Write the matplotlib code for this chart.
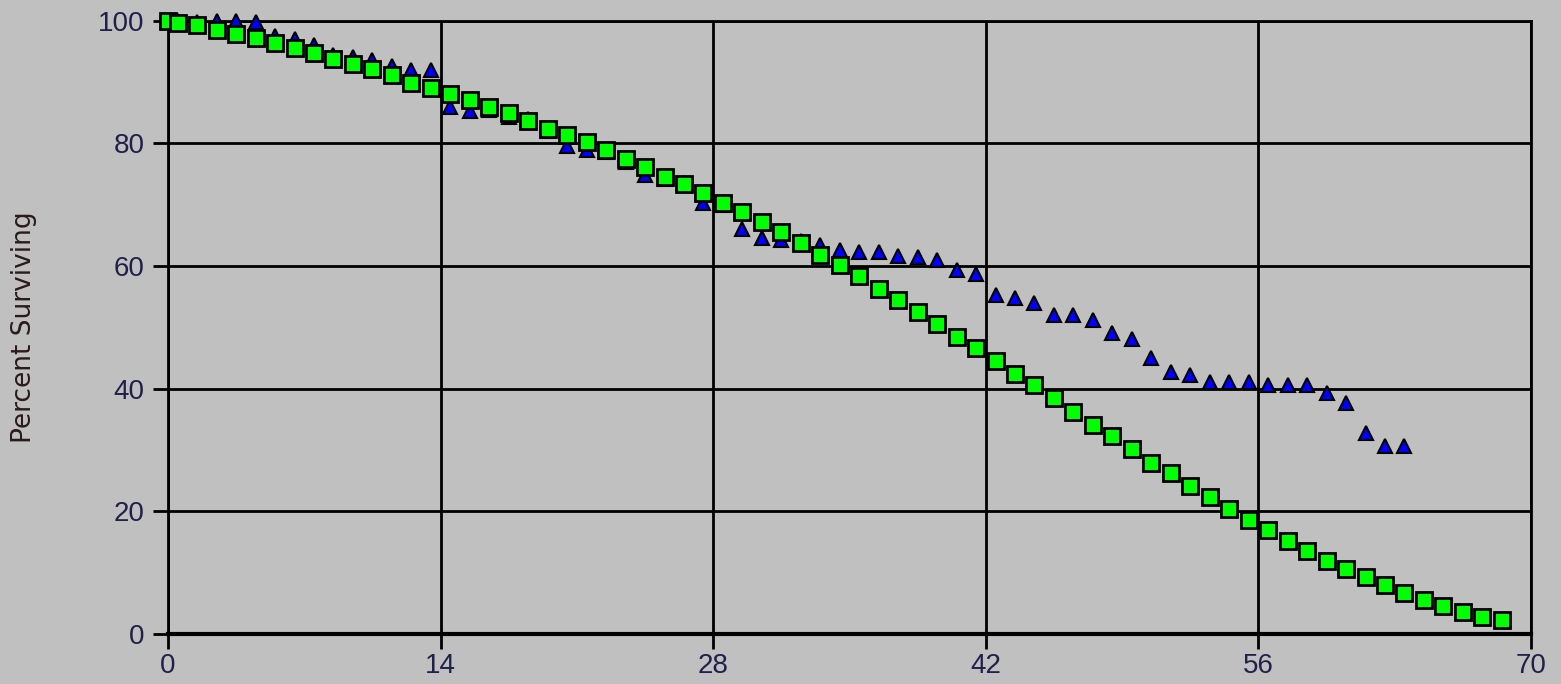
# Curvas de supervivencia: observada (triángulos) y ajustada (cuadrados)

import matplotlib
matplotlib.use("Agg")
import matplotlib.pyplot as plt

# Días de los puntos ajustados (cuadrados verdes)
dias_ajuste = [0, 0.5, 1.5, 2.5, 3.5, 4.5, 5.5, 6.5, 7.5, 8.5, 9.5, 10.5, 11.5, 12.5,
               13.5, 14.5, 15.5, 16.5, 17.5, 18.5, 19.5, 20.5, 21.5, 22.5, 23.5, 24.5,
               25.5, 26.5, 27.5, 28.5, 29.5, 30.5, 31.5, 32.5, 33.5, 34.5, 35.5, 36.5,
               37.5, 38.5, 39.5, 40.5, 41.5, 42.5, 43.5, 44.5, 45.5, 46.5, 47.5, 48.5,
               49.5, 50.5, 51.5, 52.5, 53.5, 54.5, 55.5, 56.5, 57.5, 58.5, 59.5, 60.5,
               61.5, 62.5, 63.5, 64.5, 65.5, 66.5, 67.5, 68.5]
supervivencia_ajuste = [100, 99.7, 99.3, 98.5, 97.8, 97.2, 96.3, 95.5, 94.7, 93.7, 92.9,
                        92.1, 91.1, 89.9, 89.0, 88.0, 87.1, 86.0, 84.9, 83.7, 82.3, 81.3,
                        80.2, 78.9, 77.5, 76.2, 74.5, 73.3, 71.9, 70.2, 68.8, 67.2, 65.6,
                        63.7, 61.8, 60.1, 58.3, 56.2, 54.5, 52.5, 50.6, 48.4, 46.6, 44.5,
                        42.4, 40.6, 38.5, 36.2, 34.1, 32.3, 30.2, 27.9, 26.2, 24.1, 22.3,
                        20.3, 18.6, 16.9, 15.2, 13.5, 11.9, 10.6, 9.2, 7.9, 6.6, 5.5, 4.5,
                        3.6, 2.7, 2.2]

# Días de los puntos observados (triángulos azules)
dias_obs = [0, 0.5, 1.5, 2.5, 3.5, 4.5, 5.5, 6.5, 7.5, 8.5, 9.5, 10.5, 11.5, 12.5, 13.5,
            14.5, 15.5, 16.5, 17.5, 18.5, 19.5, 20.5, 21.5, 22.5, 23.5, 24.5, 25.5, 26.5,
            27.5, 28.5, 29.5, 30.5, 31.5, 32.5, 33.5, 34.5, 35.5, 36.5, 37.5, 38.5, 39.5,
            40.5, 41.5, 42.5, 43.5, 44.5, 45.5, 46.5, 47.5, 48.5, 49.5, 50.5, 51.5, 52.5,
            53.5, 54.5, 55.5, 56.5, 57.5, 58.5, 59.5, 60.5, 61.5, 62.5, 63.5]
supervivencia_obs = [100, 100, 99.8, 100, 99.9, 99.8, 97.5, 97.0, 96.0, 94.4, 94.1, 93.6,
                     92.6, 92.0, 92.0, 86.0, 85.3, 85.4, 84.3, 84.0, 82.0, 79.6, 78.9,
                     78.6, 77.0, 74.8, 74.2, 73.6, 70.2, 70.0, 66.0, 64.5, 64.2, 64.0,
                     63.4, 62.6, 62.3, 62.3, 61.6, 61.5, 61.0, 59.4, 58.7, 55.2, 54.8,
                     54.0, 52.0, 52.0, 51.1, 49.0, 48.0, 45.0, 42.7, 42.2, 41.0, 41.0,
                     41.0, 40.6, 40.6, 40.6, 39.3, 37.7, 32.8, 30.6, 30.6]

ticks_x = [0, 14, 28, 42, 56, 70]
ticks_y = [0, 20, 40, 60, 80, 100]

fondo = "#c0c0c0"
color_texto = "#20204a"

fig = plt.figure(figsize=(15.61, 6.84), dpi=100, facecolor=fondo)
ax = fig.add_axes([0.1076, 0.0735, 0.8732, 0.8962], facecolor=fondo)

# Primero los triángulos, los cuadrados quedan encima
ax.plot(dias_obs, supervivencia_obs, linestyle="none", marker="^", markersize=10,
        markerfacecolor="#0000ff", markeredgecolor="black", markeredgewidth=1.5,
        clip_on=False, zorder=3)
ax.plot(dias_ajuste, supervivencia_ajuste, linestyle="none", marker="s", markersize=11,
        markerfacecolor="#00ff00", markeredgecolor="black", markeredgewidth=2,
        clip_on=False, zorder=4)

ax.set_xlim(0, 70)
ax.set_ylim(0, 100)
ax.set_xticks(ticks_x)
ax.set_yticks(ticks_y)
ax.grid(True, color="black", linewidth=2)
ax.set_axisbelow(True)

for lado in ["left", "right", "top"]:
    ax.spines[lado].set_color("black")
    ax.spines[lado].set_linewidth(2)
ax.spines["bottom"].set_color("black")
ax.spines["bottom"].set_linewidth(3)

ax.tick_params(axis="both", direction="out", length=11, width=2, color="black",
               labelsize=20, labelcolor=color_texto)
ax.tick_params(axis="x", pad=3)
ax.tick_params(axis="y", pad=6)
for etiqueta in ax.get_xticklabels() + ax.get_yticklabels():
    etiqueta.set_family("Liberation Sans")

ax.set_ylabel("Percent Surviving", fontsize=19, color="#2a1a1a", family="DejaVu Sans",
              labelpad=44)

fig.savefig("out.png", dpi=100, facecolor=fondo)
